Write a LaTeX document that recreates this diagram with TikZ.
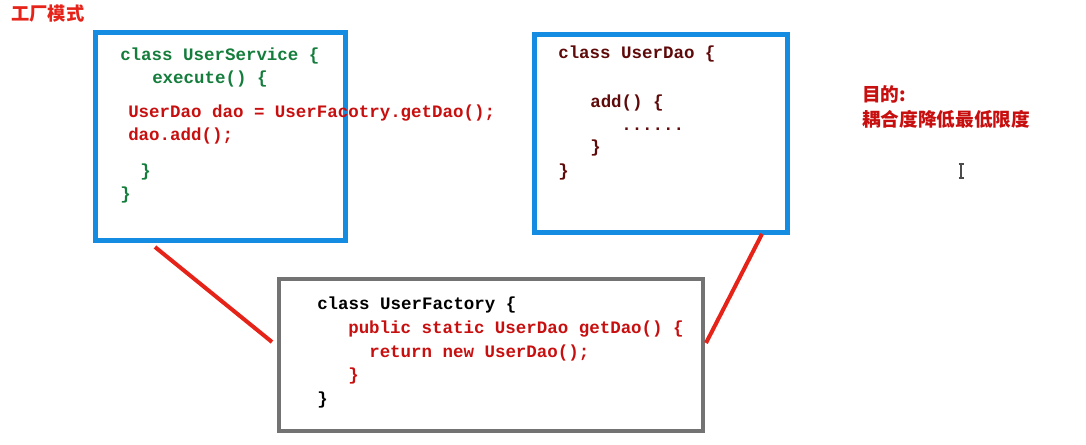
\documentclass[tikz,border=0pt]{standalone}
\usepackage{fontspec}
\setmonofont{Liberation Mono}
\newfontfamily\cjk{Noto Sans CJK SC}
\usepackage{xcolor}
\usetikzlibrary{positioning}

\definecolor{boxblue}{RGB}{20,140,225}
\definecolor{boxgrey}{RGB}{115,115,115}
\definecolor{linkred}{RGB}{230,35,25}
\definecolor{codegreen}{RGB}{20,125,60}
\definecolor{codered}{RGB}{200,15,15}
\definecolor{codedark}{RGB}{95,10,10}

\begin{document}
\begin{tikzpicture}[x=0.75pt,y=-0.75pt,
    code/.style={anchor=base west, inner sep=0pt,
      font=\ttfamily\bfseries\fontsize{13.1}{15}\selectfont},
    note/.style={anchor=base west, inner sep=0pt, text=codered,
      font=\cjk\bfseries\fontsize{14}{16}\selectfont},
    bluebox/.style={draw=boxblue, line width=3.75pt, inner sep=0pt},
    greybox/.style={draw=boxgrey, line width=3pt, inner sep=0pt},
    link/.style={draw=linkred, line width=3pt}]
        \useasboundingbox (0,0) rectangle (1086,444);
        % title
        \node[note, text=linkred, font=\cjk\bfseries\fontsize{13.7}{16}\selectfont] (title) at (11,20) {工厂模式};
        % boxes
        \node[bluebox, minimum width=187.5pt, minimum height=156pt] (svc) at (220.5,136) {};
        \node[bluebox, minimum width=189.75pt, minimum height=148.5pt] (dao) at (661,133.5) {};
        \node[greybox, minimum width=318pt, minimum height=114pt] (fac) at (491,355) {};
        % UserService
        \node[code, text=codegreen] (s1) at (120,60) {class UserService \{};
        \node[code, text=codegreen] (s2) at (152,83) {execute() \{};
        \node[code, text=codered] (s3) at (128,117) {UserDao dao = UserFacotry.getDao();};
        \node[code, text=codered] (s4) at (128,140) {dao.add();};
        \node[code, text=codegreen] (s5) at (140,176) {\}};
        \node[code, text=codegreen] (s6) at (120,199) {\}};
        % UserDao
        \node[code, text=codedark] (d1) at (558,58) {class UserDao \{};
        \node[code, text=codedark] (d2) at (590,107) {add() \{};
        \node[code, text=codedark] (d3) at (621,130) {......};
        \node[code, text=codedark] (d4) at (590,152) {\}};
        \node[code, text=codedark] (d5) at (558,176) {\}};
        % UserFactory
        \node[code, text=black] (f1) at (317,309) {class UserFactory \{};
        \node[code, text=codered] (f2) at (348,333) {public static UserDao getDao() \{};
        \node[code, text=codered] (f3) at (369,357) {return new UserDao();};
        \node[code, text=codered] (f4) at (348,380) {\}};
        \node[code, text=black] (f5) at (317,404) {\}};
        % goal
        \node[note] (goal1) at (862,101) {目的:};
        \node[note] (goal2) at (862,126) {耦合度降低最低限度};
        % links
        \coordinate (svcfoot) at (155,247);
        \coordinate (facleft) at (272,342);
        \coordinate (daofoot) at (762,234);
        \coordinate (facright) at (706,343);
        \draw[link] (svcfoot) -- (facleft);
        \draw[link] (daofoot) -- (facright);
        % cursor
        \draw[black!70, line width=0.9pt] (961,164) -- (961,178)
          (958.5,164) -- (963.5,164) (958.5,178) -- (963.5,178);
      \end{tikzpicture}
\end{document}
